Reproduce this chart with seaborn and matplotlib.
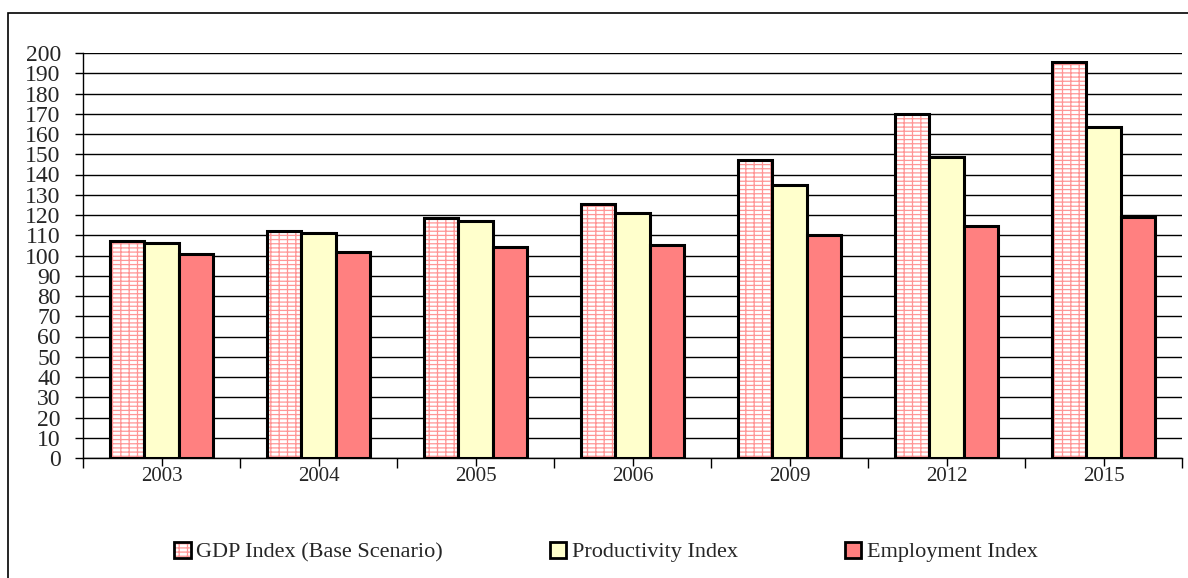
import pandas as pd
import matplotlib
matplotlib.use("Agg")
import matplotlib.pyplot as plt
import seaborn as sns
from matplotlib.patches import Rectangle, Patch

years = ["2003", "2004", "2005", "2006", "2009", "2012", "2015"]
gdp_index = [107, 112, 118.5, 125.5, 147, 170, 195.5]
productivity_index = [106, 111, 117, 121, 135, 148.5, 163.5]
employment_index = [100.5, 101.5, 104, 105, 110, 114.5, 119]
series_names = ["GDP Index (Base Scenario)", "Productivity Index", "Employment Index"]

df = pd.DataFrame({
    "year": years * 3,
    "series": [series_names[0]] * 7 + [series_names[1]] * 7 + [series_names[2]] * 7,
    "value": gdp_index + productivity_index + employment_index,
})

sns.set_style("white")
plt.rcParams["font.family"] = ["Liberation Serif", "DejaVu Serif"]
plt.rcParams["hatch.linewidth"] = 0.9

fig = plt.figure(figsize=(11.88, 5.78), dpi=100)
ax = fig.add_axes([83 / 1188, 120 / 578, 1099 / 1188, 405 / 578])

colors = ["#FFFFFF", "#FFFFCC", "#FF8080"]
hatch_color = "#FF9595"
sns.barplot(data=df, x="year", y="value", hue="series", palette=colors,
            saturation=1, width=0.66, gap=0, edgecolor="black", linewidth=2.2,
            legend=False, ax=ax, zorder=3)

# brick-like hatch for the GDP bars (pink hatch, black outline on top)
for p in ax.patches[:7]:
    hatch_rect = Rectangle(p.get_xy(), p.get_width(), p.get_height(),
                           facecolor="white", edgecolor=hatch_color, hatch="++--",
                           linewidth=0, zorder=2.9)
    ax.add_patch(hatch_rect)
    p.set_fill(False)

ax.set_ylim(0, 200)
ax.set_xlim(-0.5, 6.5)
ax.set_yticks(range(0, 201, 10))
ax.yaxis.grid(True, color="black", linewidth=1.0)
ax.set_axisbelow(True)
ax.set_xlabel("")
ax.set_ylabel("")

for side in ["top", "right"]:
    ax.spines[side].set_visible(False)
for side in ["left", "bottom"]:
    ax.spines[side].set_color("black")
    ax.spines[side].set_linewidth(1.0)

ax.tick_params(axis="y", direction="out", length=6, width=1, color="black",
               labelsize=17, pad=10, left=True)
ax.set_xticks(range(len(years)), minor=False)
ax.set_xticks([i - 0.5 for i in range(len(years) + 1)], minor=True)
ax.tick_params(axis="x", which="major", direction="inout", length=11, width=1,
               color="black", labelsize=15, pad=1, bottom=True)
ax.tick_params(axis="x", which="minor", direction="out", length=7, width=1,
               color="black", bottom=True)

gdp_handle = (Patch(facecolor="white", edgecolor=hatch_color, hatch="++--", linewidth=0),
              Patch(fill=False, edgecolor="black", linewidth=2))
handles = [
    gdp_handle,
    Patch(facecolor=colors[1], edgecolor="black", linewidth=2),
    Patch(facecolor=colors[2], edgecolor="black", linewidth=2),
]
leg = fig.legend(handles, series_names, loc="center", ncol=3,
                 bbox_to_anchor=(606 / 1188, 1 - 552 / 578), frameon=False,
                 fontsize=16, handlelength=0.75, handleheight=0.75,
                 handletextpad=0.25, columnspacing=4.8)

# outer chart border
fig.patches.append(Rectangle((8 / 1188, -0.1), 1.2, 1.1 - 13 / 578,
                             transform=fig.transFigure, fill=False,
                             edgecolor="black", linewidth=1.2))

fig.savefig("out.png", dpi=100)
